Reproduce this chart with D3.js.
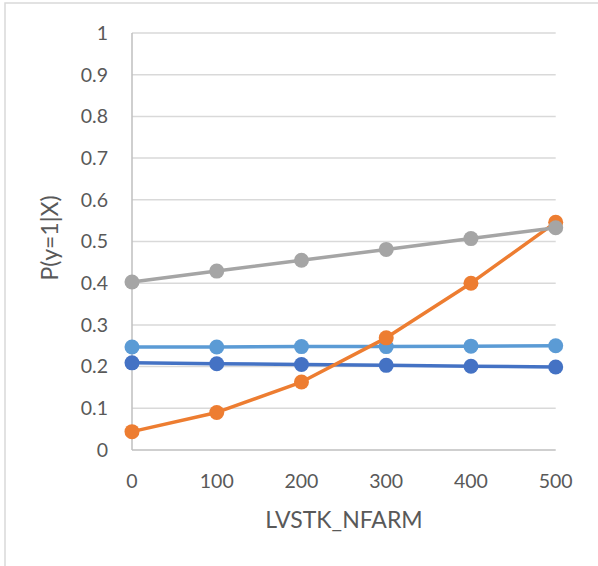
<!DOCTYPE html>
<html lang="en">
<head>
    <meta charset="UTF-8">
    <title>P(y=1|X) by LVSTK_NFARM</title>
    <script src="https://d3js.org/d3.v7.min.js"></script>
    <style>
        body { margin: 0; background: #fff; }
        svg text { font-family: Lato, "Open Sans", sans-serif; fill: #595959; }
    </style>
</head>
<body>
    <div id="chart"></div>
    <script>
        // data
        var xValues = [0, 100, 200, 300, 400, 500];
        var darkBlue = [0.209, 0.207, 0.205, 0.203, 0.201, 0.199];
        var lightBlue = [0.247, 0.247, 0.248, 0.248, 0.249, 0.250];
        var orange = [0.044, 0.090, 0.163, 0.269, 0.400, 0.546];
        var grey = [0.403, 0.429, 0.455, 0.481, 0.507, 0.533];
        var yTicks = [0, 0.1, 0.2, 0.3, 0.4, 0.5, 0.6, 0.7, 0.8, 0.9, 1];
        var xTicks = [0, 100, 200, 300, 400, 500];

        var width = 598, height = 566;

        var series = [
            { values: darkBlue, color: "#4472C4" },
            { values: lightBlue, color: "#5B9BD5" },
            { values: orange, color: "#ED7D31" },
            { values: grey, color: "#A5A5A5" }
        ];

        var x = d3.scaleLinear().domain([0, 500]).range([132, 555.7]);
        var y = d3.scaleLinear().domain([0, 1]).range([450, 33]);

        var svg = d3.select("#chart").append("svg")
            .attr("width", width)
            .attr("height", height);

        // chart area border (only top and left visible)
        svg.append("rect")
            .attr("x", 5).attr("y", 3)
            .attr("width", 700).attr("height", 700)
            .attr("fill", "none")
            .attr("stroke", "#d9d9d9")
            .attr("stroke-width", 1.5);

        // gridlines
        svg.append("g").selectAll("line")
            .data(yTicks.filter(d => d > 0))
            .enter().append("line")
            .attr("x1", x(0)).attr("x2", x(500))
            .attr("y1", d => y(d)).attr("y2", d => y(d))
            .attr("stroke", "#d9d9d9")
            .attr("stroke-width", 1.5);

        // axis lines
        svg.append("line")
            .attr("x1", x(0)).attr("x2", x(500))
            .attr("y1", y(0)).attr("y2", y(0))
            .attr("stroke", "#bfbfbf").attr("stroke-width", 1.5);
        svg.append("line")
            .attr("x1", x(0)).attr("x2", x(0))
            .attr("y1", y(0)).attr("y2", y(1))
            .attr("stroke", "#bfbfbf").attr("stroke-width", 1.5);

        // y tick labels
        svg.append("g").selectAll("text")
            .data(yTicks)
            .enter().append("text")
            .attr("x", 108)
            .attr("y", d => y(d))
            .attr("dy", "0.35em")
            .attr("text-anchor", "end")
            .attr("font-size", 19.5)
            .text(d => d3.format("~g")(d));

        // x tick labels
        svg.append("g").selectAll("text")
            .data(xTicks)
            .enter().append("text")
            .attr("x", d => x(d))
            .attr("y", 488)
            .attr("text-anchor", "middle")
            .attr("font-size", 19.5)
            .text(d => d);

        // axis titles
        svg.append("text")
            .attr("x", 344).attr("y", 528)
            .attr("text-anchor", "middle")
            .attr("font-size", 23)
            .text("LVSTK_NFARM");

        svg.append("text")
            .attr("transform", "translate(58,238) rotate(-90)")
            .attr("text-anchor", "middle")
            .attr("font-size", 23)
            .text("P(y=1|X)");

        var line = d3.line()
            .x((d, i) => x(xValues[i]))
            .y(d => y(d));

        series.forEach(function(s) {
            var g = svg.append("g");
            g.append("path")
                .attr("d", line(s.values))
                .attr("fill", "none")
                .attr("stroke", s.color)
                .attr("stroke-width", 3.5)
                .attr("stroke-linejoin", "round");
            g.selectAll("circle")
                .data(s.values)
                .enter().append("circle")
                .attr("cx", (d, i) => x(xValues[i]))
                .attr("cy", d => y(d))
                .attr("r", 7.5)
                .attr("fill", s.color);
        });
    </script>
</body>
</html>
